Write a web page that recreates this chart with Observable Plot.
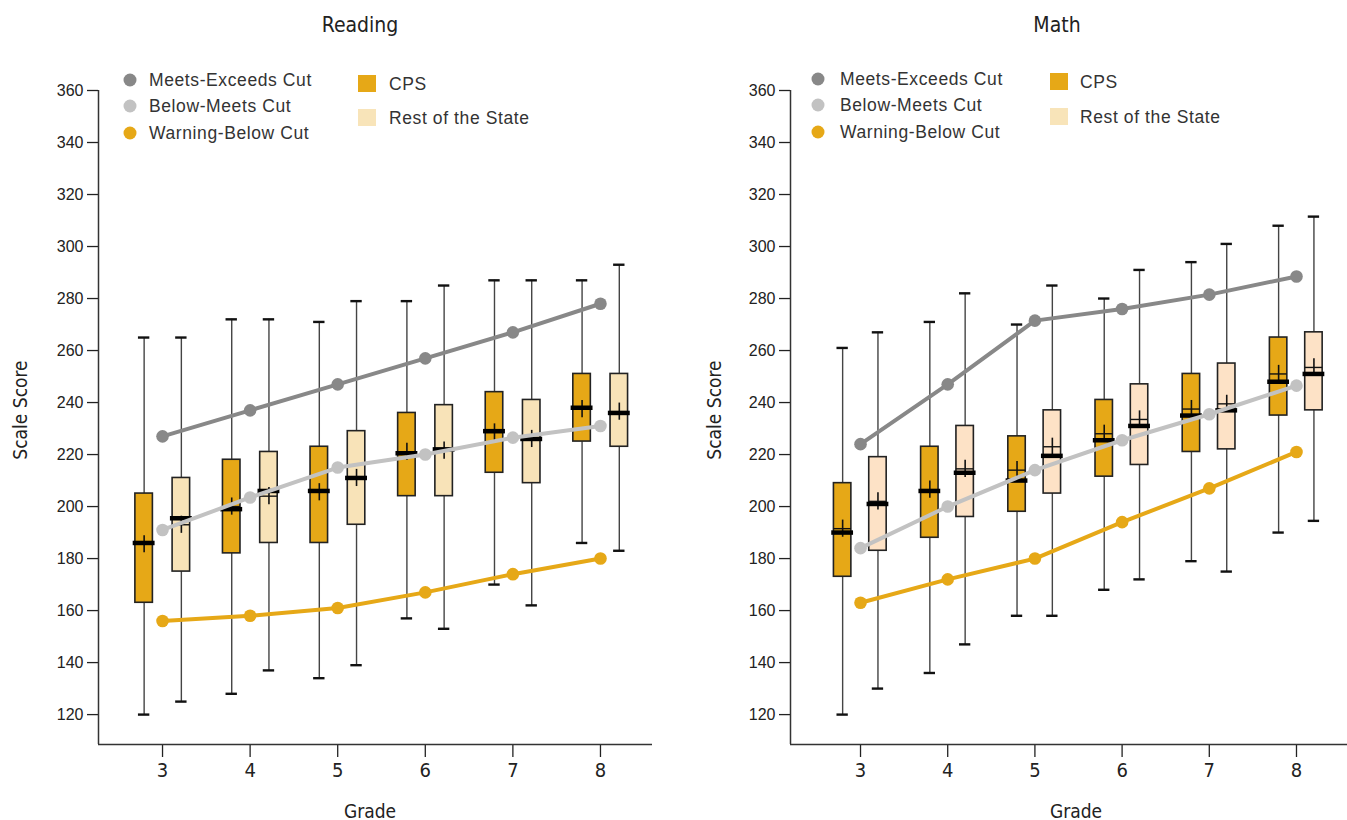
<!DOCTYPE html>
<html>
<head>
<meta charset="utf-8">
<script src="https://cdn.jsdelivr.net/npm/d3@7"></script>
<script src="https://cdn.jsdelivr.net/npm/@observablehq/plot@0.6"></script>
<style>
  html, body { margin: 0; padding: 0; background: #fff; }
  body { width: 1347px; height: 820px; position: relative; overflow: hidden; font-family: "Liberation Sans", Arial, sans-serif; color: #222; }
  .panel { position: absolute; top: 0; }
  .title { position: absolute; top: 0; height: 45px; line-height: 50px; font-size: 21px; transform: translateX(-50%); white-space: nowrap;
           font-family: "Liberation Sans Narrow", "DejaVu Sans Condensed", "Roboto Condensed", Roboto, sans-serif; font-stretch: condensed; }
  .svgwrap { position: absolute; top: 45px; left: 0; }
  .ylab { position: absolute; font-size: 19px; white-space: nowrap; transform: translate(-50%, -50%) rotate(-90deg);
          font-family: "Liberation Sans Narrow", "DejaVu Sans Condensed", "Roboto Condensed", Roboto, sans-serif; font-stretch: condensed; }
  .xlab { position: absolute; font-size: 19px; white-space: nowrap; transform: translate(-50%, -50%);
          font-family: "Liberation Sans Narrow", "DejaVu Sans Condensed", "Roboto Condensed", Roboto, sans-serif; font-stretch: condensed; }
  .leg { position: absolute; font-size: 17.5px; letter-spacing: 0.6px; color: #333; white-space: nowrap; transform: translateY(-50%); }
  .dot { position: absolute; width: 13px; height: 13px; border-radius: 50%; transform: translate(-50%, -50%); }
  .sq { position: absolute; width: 18px; height: 17px; }
</style>
</head>
<body>
<div id="root"></div>
<script>
// ---------- data ----------
const grades = [3, 4, 5, 6, 7, 8];
const yTicks = [120, 140, 160, 180, 200, 220, 240, 260, 280, 300, 320, 340, 360];
const cutNames = ["Meets-Exceeds Cut", "Below-Meets Cut", "Warning-Below Cut"];
const groupNames = ["CPS", "Rest of the State"];

// Reading cut scores
const readingMeetsExceeds = [227, 237, 247, 257, 267, 278];
const readingBelowMeets   = [191, 203.5, 215, 220, 226.5, 231];
const readingWarningBelow = [156, 158, 161, 167, 174, 180];
// Reading CPS distribution
const readingCpsMin  = [120, 128, 134, 157, 170, 186];
const readingCpsQ1   = [163, 182, 186, 204, 213, 225];
const readingCpsMed  = [186, 199, 206, 220.5, 229, 238];
const readingCpsQ3   = [205, 218, 223, 236, 244, 251];
const readingCpsMax  = [265, 272, 271, 279, 287, 287];
const readingCpsMean = [185.5, 200, 205.5, 221, 228.5, 237.5];
// Reading Rest of the State distribution
const readingRestMin  = [125, 137, 139, 153, 162, 183];
const readingRestQ1   = [175, 186, 193, 204, 209, 223];
const readingRestMed  = [195.5, 206, 211, 222, 226, 236];
const readingRestQ3   = [211, 221, 229, 239, 241, 251];
const readingRestMax  = [265, 272, 279, 285, 287, 293];
const readingRestMean = [193, 204, 211, 221.5, 226, 236.5];

// Math cut scores
const mathMeetsExceeds = [224, 247, 271.5, 276, 281.5, 288.5];
const mathBelowMeets   = [184, 200, 214, 225.5, 235.5, 246.5];
const mathWarningBelow = [163, 172, 180, 194, 207, 221];
// Math CPS distribution
const mathCpsMin  = [120, 136, 158, 168, 179, 190];
const mathCpsQ1   = [173, 188, 198, 211.5, 221, 235];
const mathCpsMed  = [190, 206, 210, 225.5, 235, 248];
const mathCpsQ3   = [209, 223, 227, 241, 251, 265];
const mathCpsMax  = [261, 271, 270, 280, 294, 308];
const mathCpsMean = [191.5, 206.5, 214, 228, 237.5, 251];
// Math Rest of the State distribution
const mathRestMin  = [130, 147, 158, 172, 175, 194.5];
const mathRestQ1   = [183, 196, 205, 216, 222, 237];
const mathRestMed  = [201, 213, 219.5, 231, 237, 251];
const mathRestQ3   = [219, 231, 237, 247, 255, 267];
const mathRestMax  = [267, 282, 285, 291, 301, 311.5];
const mathRestMean = [202, 214.5, 223, 233.5, 239.5, 253.5];

// ---------- styles ----------
const CUT_COLORS = ["#888888", "#c2c2c2", "#e6a817"];
const CPS_FILL = "#e6a817";
const COND = "Liberation Sans Narrow, DejaVu Sans Condensed, Roboto Condensed, Roboto, sans-serif";

function boxRows(group, off, mn, q1, md, q3, mx, mean) {
  return grades.map((g, i) => ({group, grade: g, x: g + off, min: mn[i], q1: q1[i], med: md[i], q3: q3[i], max: mx[i], mean: mean[i]}));
}
function cutRows(series) {
  const rows = [];
  series.forEach((vals, k) => grades.forEach((g, i) => rows.push({cut: cutNames[k], k, grade: g, value: vals[i]})));
  return rows;
}

const YMIN = 108.5, YMAX = 360;

function chart({width, marginLeft, marginRight, xDomain, boxes, restFill, cuts}) {
  const hw = 0.1;
  const cutData = cutRows(cuts);
  const fillOf = r => r.group === "CPS" ? CPS_FILL : restFill;
  return Plot.plot({
    width, height: 775,
    marginTop: 45, marginBottom: 76, marginLeft, marginRight,
    x: {domain: xDomain, axis: null},
    y: {domain: [YMIN, YMAX], axis: null},
    style: {fontFamily: "Liberation Sans, Arial, sans-serif", color: "#222", background: "transparent", overflow: "visible"},
    marks: [
      Plot.axisY({ticks: yTicks, tickSize: 11, tickPadding: 4, fontSize: 16, label: null, strokeWidth: 1.3}),
      Plot.axisX({ticks: grades, tickSize: 13, tickPadding: 5, fontSize: 20, fontFamily: COND, tickFormat: d => String(d), label: null, strokeWidth: 1.3}),
      Plot.ruleX([xDomain[0]], {stroke: "#333", strokeWidth: 1.5}),
      Plot.ruleY([YMIN], {stroke: "#333", strokeWidth: 1.5}),
      // whiskers
      Plot.ruleX(boxes, {x: "x", y1: "min", y2: "max", stroke: "#444", strokeWidth: 1.4}),
      Plot.ruleY(boxes, {y: "min", x1: r => r.x - 0.065, x2: r => r.x + 0.065, stroke: "#111", strokeWidth: 2.4}),
      Plot.ruleY(boxes, {y: "max", x1: r => r.x - 0.065, x2: r => r.x + 0.065, stroke: "#111", strokeWidth: 2.4}),
      // boxes
      Plot.rect(boxes, {x1: r => r.x - hw, x2: r => r.x + hw, y1: "q1", y2: "q3", fill: fillOf, stroke: "#222", strokeWidth: 1.6}),
      // mean marker (thin line + vertical tick)
      Plot.ruleY(boxes, {y: "mean", x1: r => r.x - hw, x2: r => r.x + hw, stroke: "#111", strokeWidth: 1.4}),
      Plot.ruleX(boxes, {x: "x", y1: r => r.mean - 3.3, y2: r => r.mean + 3.3, stroke: "#111", strokeWidth: 1.6}),
      // median
      Plot.ruleY(boxes, {y: "med", x1: r => r.x - hw - 0.025, x2: r => r.x + hw + 0.025, stroke: "#000", strokeWidth: 4.5}),
      // cut lines
      Plot.line(cutData, {x: "grade", y: "value", z: "cut", stroke: r => CUT_COLORS[r.k], strokeWidth: 4}),
      Plot.dot(cutData, {x: "grade", y: "value", r: 6.3, fill: r => CUT_COLORS[r.k], stroke: "none"})
    ]
  });
}

function panel({left, width, title, titleX, ylabX, gradeX, legDotX, legTextX, legDotY, legSqX, legSqY, legSqTextX, plotOpts}) {
  const p = document.createElement("div");
  p.className = "panel";
  p.style.left = left + "px";
  p.style.width = width + "px";
  p.style.height = "820px";
  const t = document.createElement("div");
  t.className = "title"; t.textContent = title; t.style.left = (titleX - left) + "px";
  p.appendChild(t);
  const w = document.createElement("div");
  w.className = "svgwrap";
  w.appendChild(chart(plotOpts));
  p.appendChild(w);
  const yl = document.createElement("div");
  yl.className = "ylab"; yl.textContent = "Scale Score"; yl.style.left = (ylabX - left) + "px"; yl.style.top = "410px";
  p.appendChild(yl);
  const xl = document.createElement("div");
  xl.className = "xlab"; xl.textContent = "Grade"; xl.style.left = (gradeX - left) + "px"; xl.style.top = "811px";
  p.appendChild(xl);
  cutNames.forEach((name, k) => {
    const d = document.createElement("div");
    d.className = "dot"; d.style.background = CUT_COLORS[k];
    d.style.left = (legDotX - left) + "px"; d.style.top = legDotY[k] + "px";
    p.appendChild(d);
    const tx = document.createElement("div");
    tx.className = "leg"; tx.textContent = name;
    tx.style.left = (legTextX - left) + "px"; tx.style.top = legDotY[k] + "px";
    p.appendChild(tx);
  });
  groupNames.forEach((name, k) => {
    const s = document.createElement("div");
    s.className = "sq"; s.style.background = k === 0 ? CPS_FILL : "#f8e4b9";
    s.style.left = (legSqX - left) + "px"; s.style.top = legSqY[k] + "px";
    p.appendChild(s);
    const tx = document.createElement("div");
    tx.className = "leg"; tx.textContent = name;
    tx.style.left = (legSqTextX - left) + "px"; tx.style.top = (legSqY[k] + 9) + "px";
    p.appendChild(tx);
  });
  return p;
}

const root = document.getElementById("root");

root.appendChild(panel({
  left: 0, width: 690, title: "Reading", titleX: 360, ylabX: 20, gradeX: 370,
  legDotX: 130, legTextX: 149, legDotY: [80, 106, 133],
  legSqX: 358, legSqY: [75, 109], legSqTextX: 389,
  plotOpts: {
    width: 690, marginLeft: 98, marginRight: 38, xDomain: [2.269, 8.594], restFill: "#f8e3b8",
    boxes: [
      ...boxRows("CPS", -0.21, readingCpsMin, readingCpsQ1, readingCpsMed, readingCpsQ3, readingCpsMax, readingCpsMean),
      ...boxRows("Rest of the State", 0.215, readingRestMin, readingRestQ1, readingRestMed, readingRestQ3, readingRestMax, readingRestMean)
    ],
    cuts: [readingMeetsExceeds, readingBelowMeets, readingWarningBelow]
  }
}));

root.appendChild(panel({
  left: 690, width: 657, title: "Math", titleX: 1057, ylabX: 714, gradeX: 1076,
  legDotX: 818, legTextX: 840, legDotY: [79, 105, 132],
  legSqX: 1050, legSqY: [73, 108], legSqTextX: 1080,
  plotOpts: {
    width: 657, marginLeft: 100, marginRight: 0, xDomain: [2.197, 8.585], restFill: "#fde2c6",
    boxes: [
      ...boxRows("CPS", -0.205, mathCpsMin, mathCpsQ1, mathCpsMed, mathCpsQ3, mathCpsMax, mathCpsMean),
      ...boxRows("Rest of the State", 0.2, mathRestMin, mathRestQ1, mathRestMed, mathRestQ3, mathRestMax, mathRestMean)
    ],
    cuts: [mathMeetsExceeds, mathBelowMeets, mathWarningBelow]
  }
}));
</script>
</body>
</html>
